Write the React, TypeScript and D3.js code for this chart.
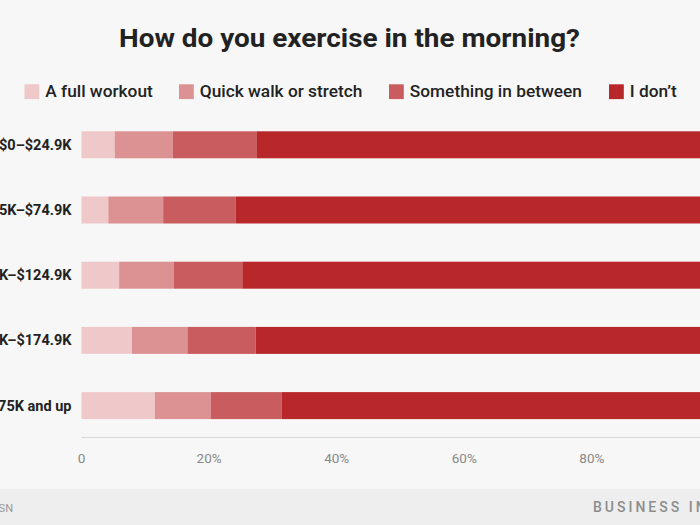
import React from "react";
import * as d3 from "d3";

const categories = ["$0–$24.9K", "$25K–$74.9K", "$75K–$124.9K", "$125K–$174.9K", "$175K and up"];
const seriesNames = ["A full workout", "Quick walk or stretch", "Something in between", "I don’t"];
const fullWorkout = [5.2, 4.2, 5.9, 7.9, 11.5];
const quickWalk = [9.1, 8.6, 8.6, 8.7, 8.8];
const inBetween = [13.2, 11.4, 10.7, 10.7, 11.1];
const iDont = [72.5, 75.8, 74.8, 72.7, 68.6];
const tickValues = [0, 20, 40, 60, 80, 100];
const colors = ["#efc8c9", "#dc9193", "#c95c5e", "#b8282a"];

export default function App() {
  const W = 700, H = 525;
  const x = d3.scaleLinear().domain([0, 100]).range([81.5, 719.5]);
  const y = d3.scaleBand().domain(categories).range([131.3, 419.1]).paddingInner(0.586).paddingOuter(0);
  const rows = categories.map((c, i) => ({ cat: c, full: fullWorkout[i], quick: quickWalk[i], between: inBetween[i], dont: iDont[i] }));
  const stack = d3.stack<any>().keys(["full", "quick", "between", "dont"])(rows);
  const font = "Roboto, 'Noto Sans', sans-serif";
  const legendX = [24.5, 179, 389, 609];
  return (
    <svg width={W} height={H} style={{ position: "absolute", left: 0, top: 0 }} fontFamily={font}>
      <rect x={0} y={0} width={W} height={H} fill="#f7f7f7" />
      <text x={119} y={47} fontSize={26.5} fontWeight={700} fill="#222" textLength={461} lengthAdjust="spacingAndGlyphs">How do you exercise in the morning?</text>
      {seriesNames.map((s, i) => (
        <g key={s}>
          <rect x={legendX[i]} y={84.3} width={14.8} height={14.8} fill={colors[i]} />
          <text x={legendX[i] + 20.8} y={97.3} fontSize={17.3} fontWeight={500} fill="#222">{s}</text>
        </g>
      ))}
      {stack.map((layer, li) => (
        <g key={li} fill={colors[li]}>
          {layer.map((d: any, j: number) => (
            <rect key={j} x={x(d[0])} y={y(categories[j])} width={x(d[1]) - x(d[0])} height={y.bandwidth()} />
          ))}
        </g>
      ))}
      {categories.map((c) => (
        <text key={c} x={71.5} y={(y(c) as number) + y.bandwidth() / 2 + 5} textAnchor="end" fontSize={14.5} fontWeight={700} fill="#222">{c}</text>
      ))}
      <line x1={81.5} x2={W} y1={437.5} y2={437.5} stroke="#d6d6d6" strokeWidth={1} />
      {tickValues.map((t) => (
        <text key={t} x={x(t)} y={462.5} textAnchor="middle" fontSize={13.5} fill="#888">{t === 0 ? "0" : `${t}%`}</text>
      ))}
      <rect x={0} y={489} width={W} height={36} fill="#eeeeee" />
      <text x={13} y={512} textAnchor="end" fontSize={11} fill="#999">SOURCE: SURVEYMONKEY AUDIENCE, YOUGOV, BSN</text>
      <text x={593} y={511.7} fontSize={14} fill="#8c8c8c" letterSpacing={3} fontWeight={500}>BUSINESS INSIDER</text>
    </svg>
  );
}
